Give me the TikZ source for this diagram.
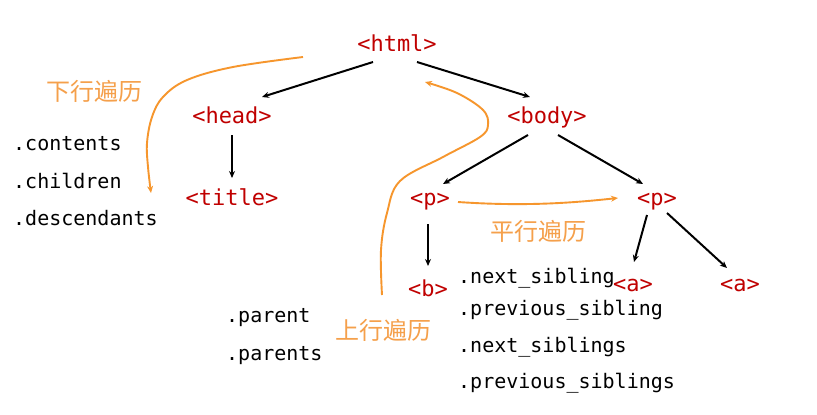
\documentclass[tikz,border=0pt]{standalone}
\usepackage{fontspec}
\setmonofont{DejaVu Sans Mono}
\newfontfamily\cjk{Noto Sans CJK SC}
\usetikzlibrary{arrows.meta}
\definecolor{tagred}{RGB}{192,0,0}
\definecolor{trav}{RGB}{246,150,45}
\definecolor{travtxt}{RGB}{245,160,75}
\begin{document}
\begin{tikzpicture}[x=1pt,y=-1pt,
 tag/.style={text=tagred,font=\ttfamily\fontsize{22}{24}\selectfont,inner sep=0,anchor=base},
 meth/.style={anchor=base west,font=\ttfamily\fontsize{20}{22}\selectfont,inner sep=0},
 lbl/.style={text=travtxt,font=\cjk\fontsize{24}{26}\selectfont,inner sep=0},
 edge/.style={-{Stealth[length=7pt,width=6pt]},line width=2pt},
 travel/.style={-{Stealth[length=7pt,width=6pt]},draw=trav,line width=1.9pt}]
\useasboundingbox[fill=white] (0,0) rectangle (817,415);
% tags
\node[tag] (html) at (397,51) {<html>};
\node[tag] (head) at (232,123) {<head>};
\node[tag] (title) at (232,205) {<title>};
\node[tag] (body) at (547,123) {<body>};
\node[tag] (p1) at (430,205) {<p>};
\node[tag] (p2) at (657,205) {<p>};
\node[tag] (b) at (428,296) {<b>};
\node[tag] (a1) at (633,291) {<a>};
\node[tag] (a2) at (740,291) {<a>};
% methods
\node[meth] (m1) at (13,150) {.contents};
\node[meth] (m2) at (13,188) {.children};
\node[meth] (m3) at (13,225) {.descendants};
\node[meth] (m4) at (226,322) {.parent};
\node[meth] (m5) at (226,360) {.parents};
\node[meth] (m6) at (458,283) {.next\_sibling};
\node[meth] (m7) at (458,315) {.previous\_sibling};
\node[meth] (m8) at (458,352) {.next\_siblings};
\node[meth] (m9) at (458,388) {.previous\_siblings};
% labels
\node[lbl] (down) at (94,91) {下行遍历};
\node[lbl] (up) at (383,330) {上行遍历};
\node[lbl] (side) at (538,231) {平行遍历};
% tree edges
\coordinate (hc) at (397,43);
\coordinate (hdc) at (232,115);
\coordinate (tc) at (232,198);
\coordinate (bc) at (547,115);
\coordinate (p1c) at (430,198);
\coordinate (p2c) at (657,198);
\coordinate (bbc) at (428,288);
\coordinate (a1c) at (633,284);
\coordinate (a2c) at (740,284);
\draw[edge] ([shift={(-24,19)}]hc) -- ([shift={(30,-18)}]hdc);
\draw[edge] ([shift={(20,19)}]hc) -- ([shift={(-17,-18)}]bc);
\draw[edge] ([shift={(0,20)}]hdc) -- ([shift={(0,-20)}]tc);
\draw[edge] ([shift={(-19,20)}]bc) -- ([shift={(13,-14)}]p1c);
\draw[edge] ([shift={(11,20)}]bc) -- ([shift={(-14,-14)}]p2c);
\draw[edge] ([shift={(-2,26)}]p1c) -- ([shift={(0,-22)}]bbc);
\draw[edge] ([shift={(-10,17)}]p2c) -- ([shift={(1,-22)}]a1c);
\draw[edge] ([shift={(10,15)}]p2c) -- ([shift={(-13,-16)}]a2c);
% traversal arrows
\draw[travel] plot[smooth,tension=0.6] coordinates {(303,57) (233,67) (187,80) (163,97) (152,117) (147,143) (148,167) (151,193)};
\draw[travel] plot[smooth,tension=0.6] coordinates {(382,295) (381,250) (387,213) (400,181) (443,157) (480,137) (488,125) (483,110) (457,93) (425,82)};
\draw[travel] ([shift={(28,4)}]p1c) .. controls (530,207) and (580,202) .. ([shift={(-39,0)}]p2c);
\end{tikzpicture}
\end{document}
